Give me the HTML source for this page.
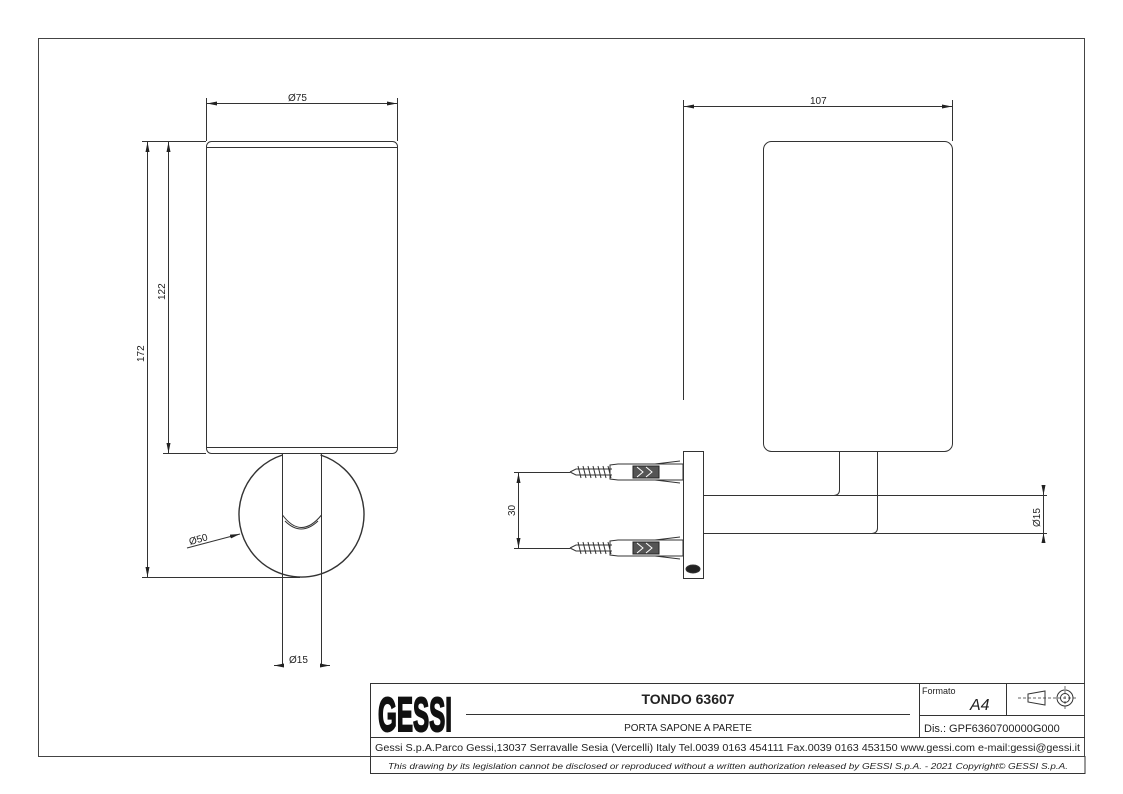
<!DOCTYPE html>
<html><head><meta charset="utf-8"><style>
html,body{margin:0;padding:0;background:#fff}
svg{display:block}
text{font-family:"Liberation Sans",sans-serif;fill:#222}
</style></head><body>
<svg width="1123" height="794" viewBox="0 0 1123 794" xmlns="http://www.w3.org/2000/svg">
<defs>
<marker id="a" viewBox="0 0 10 4" refX="10" refY="2" markerWidth="10" markerHeight="4" orient="auto-start-reverse" markerUnits="userSpaceOnUse"><path d="M0,0 L10,2 L0,4z" fill="#222"/></marker>
</defs>
<g fill="none" stroke="#333" stroke-width="1">
<rect x="38.5" y="38.5" width="1046" height="718" stroke="#444"/>
<path d="M370.5 757 V683.5 H1085"/>
<path d="M370.5 737.5 H1085 M370.5 756.5 V773.5 H1085 V756"/>
<path d="M919.5 683 V737 M1006.5 683 V715 M919 715.5 H1085"/>
<path d="M466 714.5 H910"/>
<path d="M1028 694 L1045 691 V705 L1028 702 Z"/>
<circle cx="1065" cy="698" r="8"/><circle cx="1065" cy="698" r="4.5"/>
<path d="M1018 698 H1078 M1065 686 V710" stroke-dasharray="3 2" stroke-width="0.7"/>

<!-- FRONT VIEW -->
<rect x="206.5" y="141.5" width="191" height="312" rx="5"/>
<path d="M207 147.5 H397 M207 447.5 H397"/>
<path d="M282.5 455 A62.5 62.5 0 1 0 320.5 455" stroke-width="1.4"/>
<path d="M282.5 453 V665 M321.5 453 V665"/>
<path d="M282.5 515 Q301 540 321.5 515"/>
<path d="M285 521 Q301 537 318 521"/>
<path d="M206.5 98 V141 M397.5 98 V141"/>
<path d="M207 103.5 H397" marker-start="url(#a)" marker-end="url(#a)"/>
<path d="M142 141.5 H206 M163 453.5 H206 M142 577.5 H300"/>
<path d="M147.5 142 V577" marker-start="url(#a)" marker-end="url(#a)"/>
<path d="M168.5 142 V453" marker-start="url(#a)" marker-end="url(#a)"/>
<path d="M187 548 L240 534" marker-end="url(#a)"/>
<path d="M283 665.5 H274" marker-end="url(#a)"/><path d="M321 665.5 H330" marker-end="url(#a)"/>

<!-- SIDE VIEW -->
<rect x="763.5" y="141.5" width="189" height="310" rx="8"/>
<path d="M683.5 100 V400 M952.5 100 V141"/>
<path d="M684 106.5 H952" marker-start="url(#a)" marker-end="url(#a)"/>
<rect x="683.5" y="451.5" width="20" height="127"/>
<ellipse cx="693" cy="569" rx="7" ry="4" fill="#222"/>
<path d="M704 495.5 H1047 M704 533.5 H1047"/>
<path d="M839.5 452 V490 Q839.5 495 834 495.5"/>
<path d="M877.5 452 V528 Q877.5 533 872 533.5"/>
<path d="M1043.5 487 V495" marker-end="url(#a)"/><path d="M1043.5 541 V533" marker-end="url(#a)"/>
<path d="M1043.5 495 V533"/>
<g id="scr">
<path d="M570 472 L576 469 H612 M570 472 L576 475 H612"/>
<path d="M578 466 L581 478 M583 466 L586 478 M588 466 L591 478 M593 466 L596 478 M598 466 L601 478 M603 466 L606 478 M608 466 L611 478"/>
<path d="M610 465 L618 464 H683 V480 H618 L610 479 Z"/>
<rect x="633" y="466" width="26" height="12" fill="#555" stroke="#222"/>
<path d="M637 467 L643 472 L637 477 M646 467 L652 472 L646 477" stroke="#fff"/>
<path d="M655 464 L680 461 M655 480 L680 483"/>
</g>
<use href="#scr" y="76"/>
<path d="M514 472.5 H570 M514 548.5 H570"/>
<path d="M518.5 473 V548" marker-start="url(#a)" marker-end="url(#a)"/>
</g>

<text x="288" y="101" font-size="10">Ø75</text>
<text x="810" y="104" font-size="10">107</text>
<text transform="translate(165,300) rotate(-90)" font-size="10">122</text>
<text transform="translate(144,362) rotate(-90)" font-size="10">172</text>
<text transform="translate(190,545) rotate(-15)" font-size="10">Ø50</text>
<text x="289" y="663" font-size="10">Ø15</text>
<text transform="translate(515,516) rotate(-90)" font-size="10">30</text>
<text transform="translate(1040,527) rotate(-90)" font-size="10">Ø15</text>

<text x="378" y="731" font-size="48" font-weight="bold" textLength="74" lengthAdjust="spacingAndGlyphs" stroke="#111" stroke-width="2" style="fill:#111">GESSI</text>
<text x="688" y="704" font-size="14" font-weight="bold" text-anchor="middle">TONDO 63607</text>
<text x="688" y="731" font-size="10" text-anchor="middle">PORTA SAPONE A PARETE</text>
<text x="922" y="694" font-size="9">Formato</text>
<text x="970" y="710" font-size="16" font-style="italic">A4</text>
<text x="924" y="732" font-size="11">Dis.: GPF6360700000G000</text>
<text x="375" y="751" font-size="10" textLength="705" lengthAdjust="spacingAndGlyphs">Gessi S.p.A.Parco Gessi,13037 Serravalle Sesia (Vercelli) Italy Tel.0039 0163 454111 Fax.0039 0163 453150 www.gessi.com e-mail:gessi@gessi.it</text>
<text x="728" y="769" font-size="8" font-style="italic" text-anchor="middle" textLength="680" lengthAdjust="spacingAndGlyphs">This drawing by its legislation cannot be disclosed or reproduced without a written authorization released by GESSI S.p.A. - 2021 Copyright© GESSI S.p.A.</text>
</svg>
</body></html>
